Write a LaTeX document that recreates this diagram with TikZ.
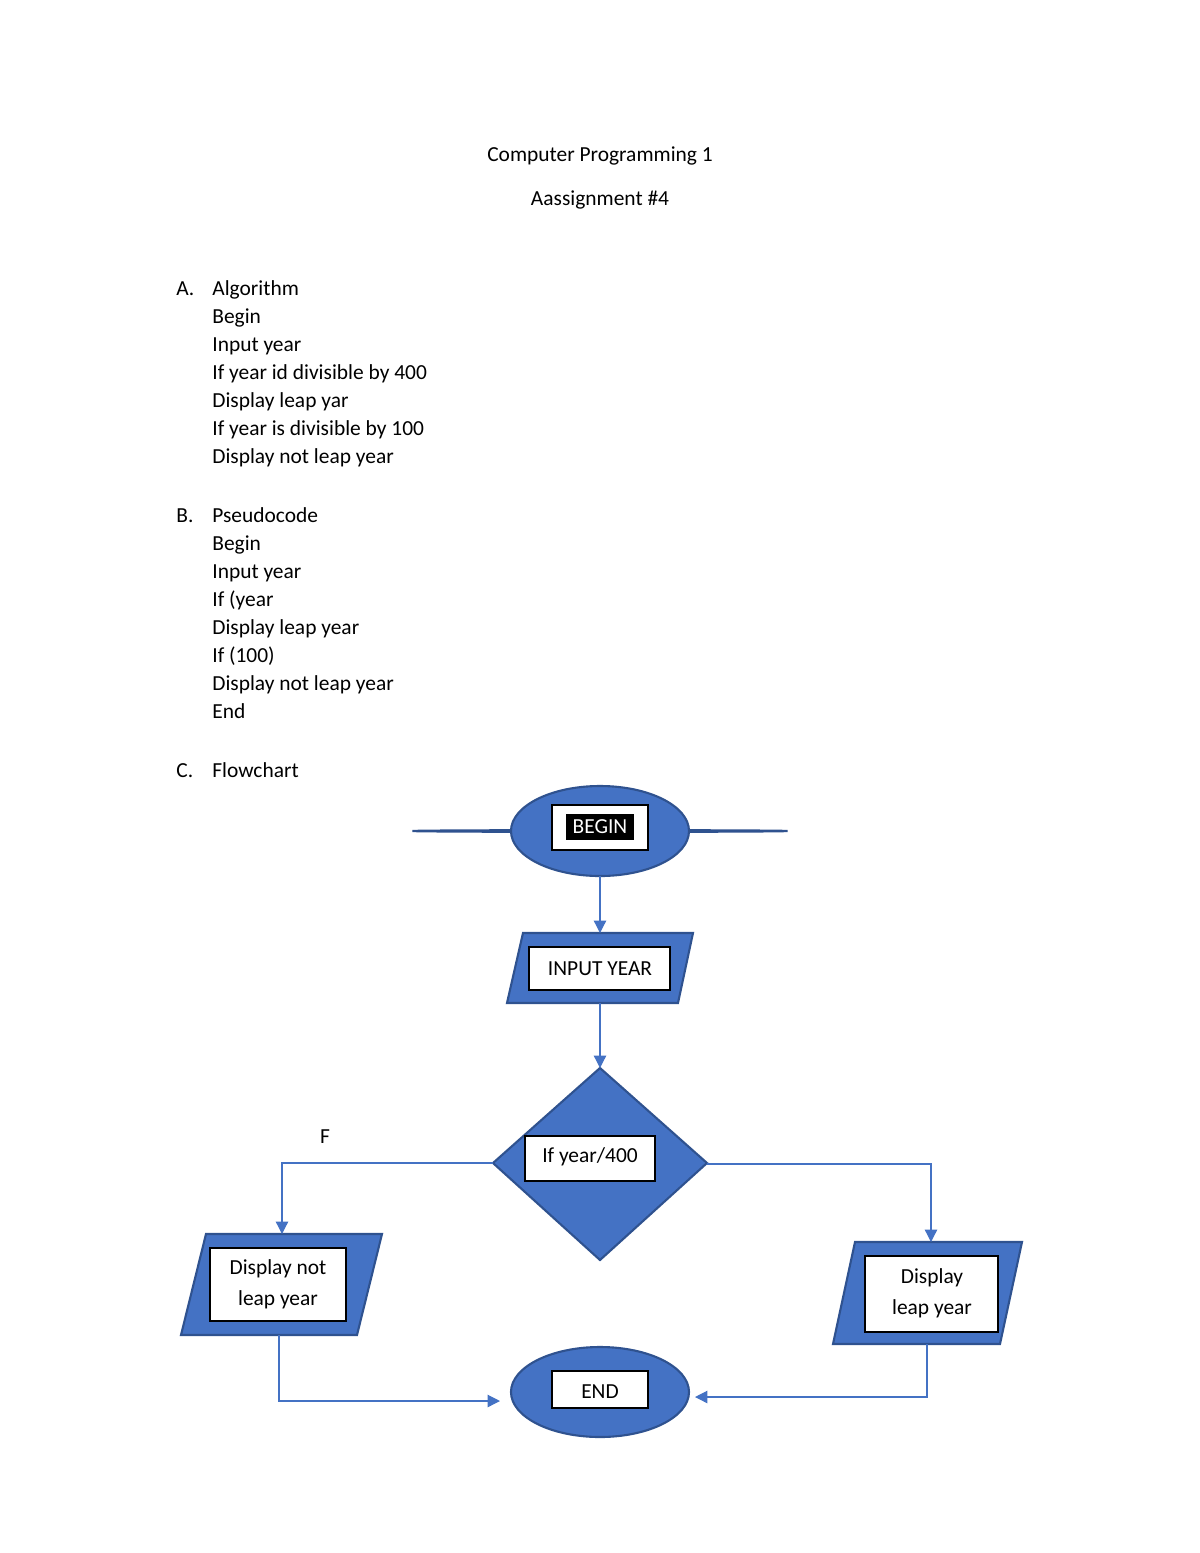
\documentclass[tikz,border=0pt]{standalone}
\usepackage{fontspec}
\setmainfont{Carlito}
\usetikzlibrary{shapes.geometric,arrows.meta}
\definecolor{fillb}{HTML}{4472C4}
\definecolor{edgeb}{HTML}{2F528F}
\begin{document}
\begin{tikzpicture}[x=0.02cm,y=-0.02cm,
  txt/.style={font=\fontsize{12.2}{15.9}\selectfont, inner sep=0pt, anchor=base west},
  shp/.style={fill=fillb, draw=edgeb, line width=1.2pt},
  ibox/.style={draw=black, fill=white, line width=1.6pt},
  conn/.style={draw=fillb, line width=0.7pt, -{Triangle[length=7pt,width=7pt]}},
  lbl/.style={font=\fontsize{12.2}{15.9}\selectfont, align=center}]
\useasboundingbox (0,0) rectangle (1200,1553);
% header
\node[lbl] (t1) at (600,156) {Computer Programming 1};
\node[lbl] (t2) at (600,200) {Aassignment \#4};
% list A
\foreach \i/\t in {0/Algorithm,1/Begin,2/Input year,3/If year id divisible by 400,4/Display leap yar,5/If year is divisible by 100,6/Display not leap year}
  \node[txt] (a\i) at (212,{295+28*\i}) {\t};
\node[txt] (la) at (176,295) {A.};
\foreach \i/\t in {0/Pseudocode,1/Begin,2/Input year,3/If (year/400),4/Display leap year,5/If (100),6/Display not leap year,7/End}
  \node[txt] (b\i) at (212,{522+28*\i}) {\t};
\node[txt] (lb) at (176,522) {B.};
\node[txt] (lc) at (176,777) {C.};
\node[txt] (c0) at (212,777) {Flowchart};
% BEGIN
\node[shp, ellipse, minimum width=178\pgflinewidth, inner sep=0pt] (beg) at (600,831) {};
\path[shp] (600,831) ellipse [x radius=89, y radius=45];
\coordinate (begS) at (600,876);
\draw[ibox] (552,805) rectangle (648,850);
\node[fill=black, text=white, font=\fontsize{12.2}{15}\selectfont, minimum width=68*0.02cm, minimum height=26*0.02cm, inner sep=0pt] (begt) at (600,827) {BEGIN};
% INPUT
\path[shp] (523,933) -- (693,933) -- (678,1003) -- (507,1003) -- cycle;
\coordinate (inN) at (600,933);
\coordinate (inS) at (600,1003);
\draw[ibox] (529,947) rectangle (670,990);
\node[lbl] (int) at (600,969) {INPUT YEAR};
% diamond
\path[shp] (600,1068) -- (707,1163) -- (600,1260) -- (493,1163) -- cycle;
\coordinate (dN) at (600,1068);
\coordinate (dW) at (493,1163);
\coordinate (dE) at (707,1164);
\draw[ibox] (525,1136) rectangle (655,1181);
\node[lbl] (dt) at (590,1157) {If year/400};
% left display
\path[shp] (206,1234) -- (382,1234) -- (357,1335) -- (181,1335) -- cycle;
\coordinate (lN) at (282,1234);
\coordinate (lS) at (279,1335);
\draw[ibox] (210,1248) rectangle (346,1321);
\node[lbl] (lt) at (278,1284) {Display not\\[2pt]leap year};
% right display
\path[shp] (855,1242) -- (1022,1242) -- (1000,1344) -- (833,1344) -- cycle;
\coordinate (rN) at (931,1242);
\coordinate (rS) at (927,1344);
\draw[ibox] (865,1256) rectangle (998,1332);
\node[lbl] (rt) at (932,1293) {Display\\[2pt]leap year};
% END
\path[shp] (600,1392) ellipse [x radius=89, y radius=45];
\coordinate (eW) at (500,1401);
\coordinate (eE) at (695,1397);
\draw[ibox] (552,1371) rectangle (648,1408);
\node[lbl] (et) at (600,1392) {END};
\node[lbl] (F) at (325,1137) {F};
% connectors
\draw[conn] (begS) -- (inN);
\draw[conn] (inS) -- (dN);
\draw[conn] (dW) -| (lN);
\draw[conn] (dE) -| (rN);
\draw[conn] (lS) |- (eW);
\draw[conn] (rS) |- (eE);
\end{tikzpicture}
\end{document}
